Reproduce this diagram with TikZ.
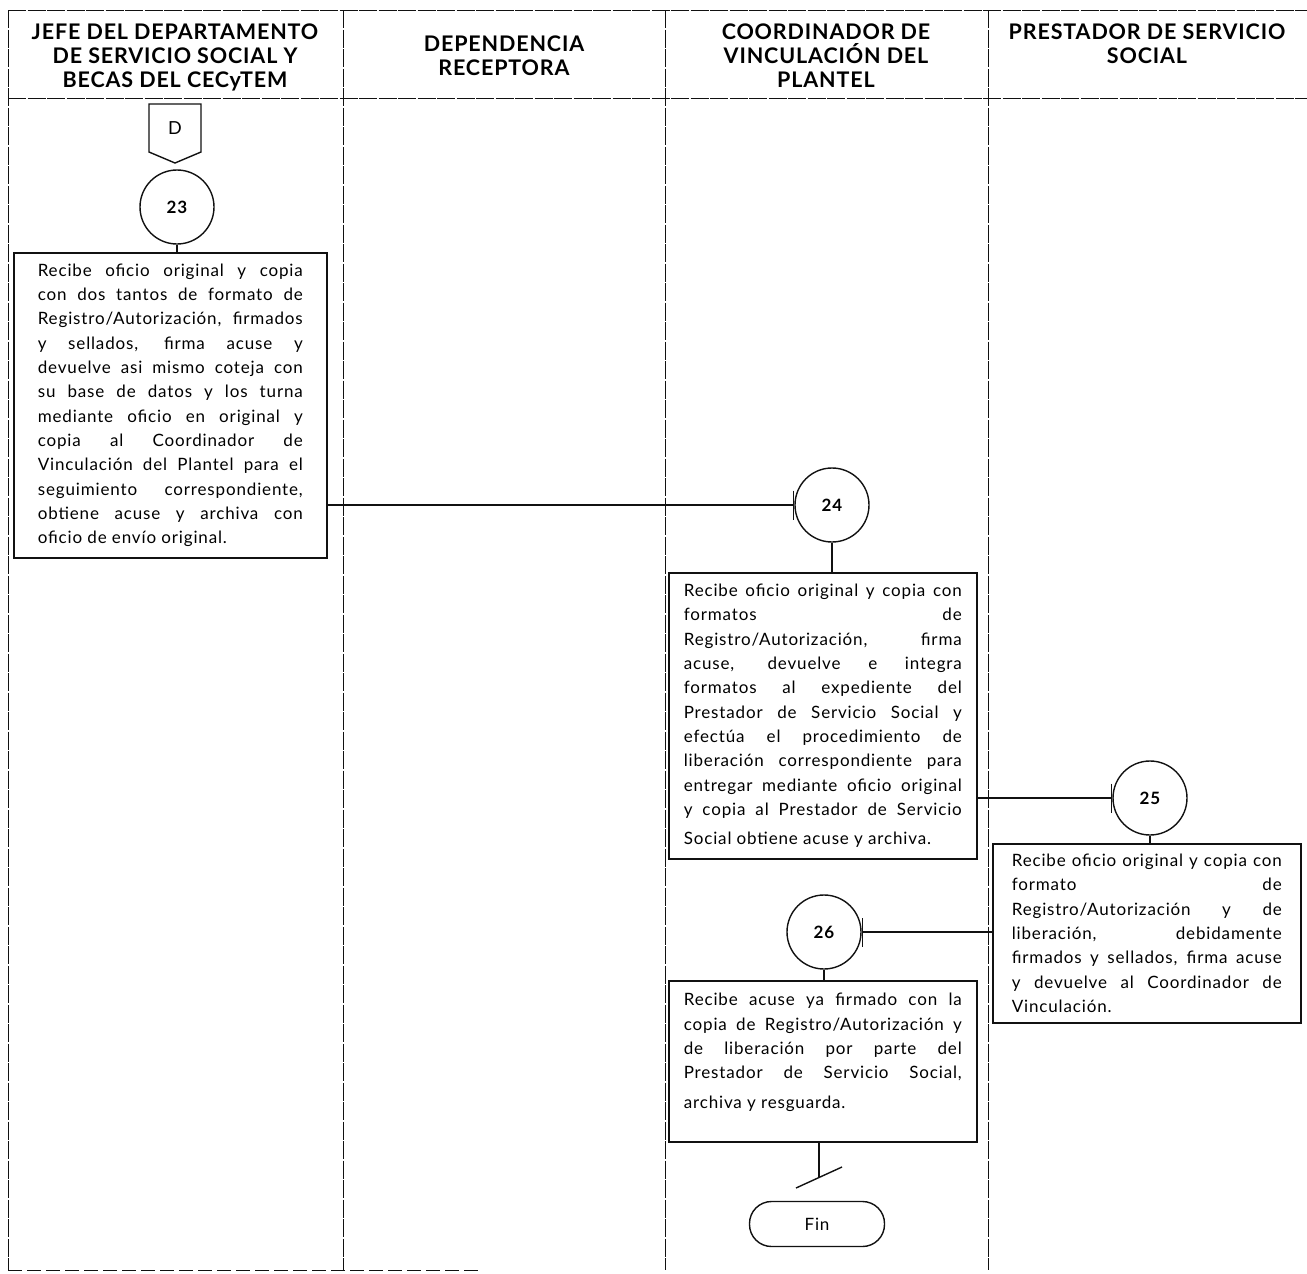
\documentclass[tikz,border=0pt]{standalone}
\usepackage{fontspec}
\setmainfont{Lato}
\newfontfamily\bodyfont[LetterSpace=5]{Lato}
\newfontfamily\headfont[LetterSpace=4]{Lato}
\usetikzlibrary{arrows.meta}
\definecolor{flow_ink}{HTML}{111111}

\tikzset{
    lane/.style={flow_ink, line width=0.9pt, dash pattern=on 18pt off 1.5pt},
    stepbox/.style={draw=flow_ink, line width=1.6pt, anchor=north west, align=justify,
        inner ysep=0pt, font=\bodyfont\fontsize{17}{24.3}\selectfont},
    stepnum/.style={draw=flow_ink, circle, line width=1.4pt, minimum size=74pt, inner sep=0pt,
        font=\bodyfont\bfseries\fontsize{17}{18}\selectfont},
    lanehead/.style={anchor=north, align=center, font=\headfont\bfseries\fontsize{21.5}{24}\selectfont},
    flow/.style={flow_ink, line width=1.4pt, -{Bar[width=29pt, line width=1.4pt]}},
    stem/.style={flow_ink, line width=1.4pt},
}

\begin{document}
\begin{tikzpicture}[x=1pt, y=-1pt]
    \useasboundingbox (0,0) rectangle (1307,1274);

    % lanes
    \draw[lane] (8,10) -- (1307,10);
    \draw[lane] (8,98) -- (1307,98);
    \draw[lane] (8,10) -- (8,1270);
    \draw[lane] (343,10) -- (343,1270);
    \draw[lane] (665,10) -- (665,1270);
    \draw[lane] (988,10) -- (988,1270);
    \draw[lane, dash pattern=on 14pt off 5pt] (8,1270) -- (480,1270);

    \node[lanehead] (jefe) at (175,20) {JEFE DEL DEPARTAMENTO\\DE SERVICIO SOCIAL Y\\BECAS DEL CECyTEM};
    \node[lanehead] (depen) at (504,32) {DEPENDENCIA\\RECEPTORA};
    \node[lanehead] (coord) at (826,20) {COORDINADOR DE\\VINCULACIÓN DEL\\PLANTEL};
    \node[lanehead] (prest) at (1147,20) {PRESTADOR DE SERVICIO\\SOCIAL};

    % off-page connector
    \node[font=\bodyfont\fontsize{18}{18}\selectfont] (offD) at (175,128) {D};
    \draw[stem] (offD.center) +(-26,-24) -- +(26,-24) -- +(26,24) -- +(0,35) -- +(-26,24) -- cycle;

    \node[stepnum] (n23) at (177,207) {23};
    \node[stepnum] (n24) at (832,505) {24};
    \node[stepnum] (n25) at (1150,798) {25};
    \node[stepnum] (n26) at (824,932) {26};

    \node[stepbox, text width=265pt, inner xsep=24pt, minimum height=305pt] (b23) at (13,252)
        {Recibe oficio original y copia\linebreak
         con dos tantos de formato de\linebreak
         Registro/Autorización, firmados\linebreak
         y sellados, firma acuse y\linebreak
         devuelve asi mismo coteja con\linebreak
         su base de datos y los turna\linebreak
         mediante oficio en original y\linebreak
         copia al Coordinador de\linebreak
         Vinculación del Plantel para el\linebreak
         seguimiento correspondiente,\linebreak
         obtiene acuse y archiva con\linebreak
         oficio de envío original.};
    \node[stepbox, text width=278pt, inner xsep=15pt, minimum height=286pt] (b24) at (668,572)
        {Recibe oficio original y copia con\linebreak
         formatos de\linebreak
         Registro/Autorización, firma\linebreak
         acuse, devuelve e integra\linebreak
         formatos al expediente del\linebreak
         Prestador de Servicio Social y\linebreak
         efectúa el procedimiento de\linebreak
         liberación correspondiente para\linebreak
         entregar mediante oficio original\linebreak
         y copia al Prestador de Servicio\vadjust{\kern5pt}\linebreak
         Social obtiene acuse y archiva.};
    \node[stepbox, text width=270pt, inner xsep=19pt, minimum height=179pt] (b25) at (992,843)
        {Recibe oficio original y copia con\linebreak
         formato de\linebreak
         Registro/Autorización y de\linebreak
         liberación, debidamente\linebreak
         firmados y sellados, firma acuse\linebreak
         y devuelve al Coordinador de\linebreak
         Vinculación.};
    \node[stepbox, text width=278pt, inner xsep=15pt, minimum height=161pt] (b26) at (668,980)
        {Recibe acuse ya firmado con la\linebreak
         copia de Registro/Autorización y\linebreak
         de liberación por parte del\linebreak
         Prestador de Servicio Social,\vadjust{\kern5pt}\linebreak
         archiva y resguarda.\par\kern18pt};

    \draw[stem] (n23.south) -- (n23.south |- b23.north);
    \draw[stem] (n24.south) -- (n24.south |- b24.north);
    \draw[stem] (n25.south) -- (n25.south |- b25.north);
    \draw[stem] (n26.south) -- (n26.south |- b26.north);

    \draw[flow] (b23.east |- n24.west) -- (n24.west);
    \draw[flow] (b24.east |- n25.west) -- (n25.west);
    \draw[flow] (b25.west |- n26.east) -- (n26.east);

    % end
    \coordinate (cut) at (819,1177);
    \draw[stem] (b26.south -| cut) -- (cut);
    \draw[stem] (cut) +(-23,11) -- +(23,-10);
    \node[draw=flow_ink, line width=1.4pt, rounded corners=22pt, minimum width=135pt, minimum height=45pt,
        font=\bodyfont\fontsize{17}{18}\selectfont] (fin) at (817,1224) {Fin};
\end{tikzpicture}
\end{document}
